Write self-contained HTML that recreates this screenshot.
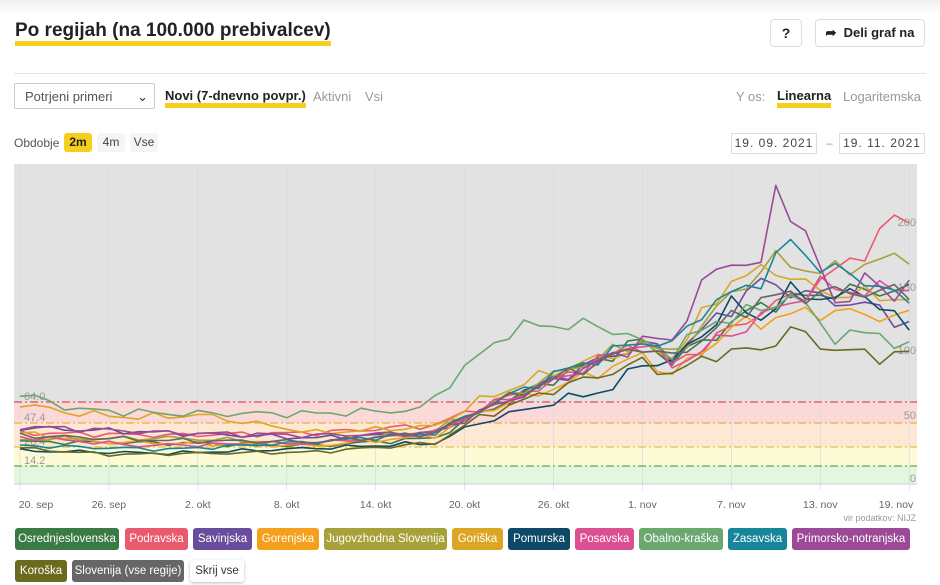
<!DOCTYPE html>
<html><head><meta charset="utf-8"><style>
body{margin:0;width:940px;height:585px;background:#fff;font-family:"Liberation Sans",sans-serif;position:relative;overflow:hidden;color:#222}
.a{position:absolute;white-space:nowrap}
.btn{position:absolute;height:22px;line-height:22px;border-radius:3px;color:#fff;font-size:11.5px;text-align:center}
.ul{border-bottom:5px solid #f5cf1b;line-height:14px}
</style></head><body>
<div class="a" style="left:0;top:0;width:940px;height:14px;background:linear-gradient(#f0f0f0,#fff)"></div>
<div class="a" style="left:15px;top:21px;font-size:19px;font-weight:bold;color:#222;border-bottom:5px solid #f5cf1b;line-height:20px">Po regijah (na 100.000 prebivalcev)</div>
<div class="a" style="left:770px;top:19px;width:30px;height:26px;border:1px solid #ddd;border-radius:4px;text-align:center;line-height:26px;font-weight:bold;font-size:14px">?</div>
<div class="a" style="left:815px;top:19px;width:108px;height:26px;border:1px solid #ddd;border-radius:4px;line-height:26px;font-weight:bold;font-size:13px;text-align:center">➦&nbsp; Deli graf na</div>
<div class="a" style="left:14px;top:73px;width:912px;height:1px;background:#e6e6e6"></div>
<div class="a" style="left:14px;top:83px;width:141px;height:26px;border:1px solid #ccc;border-radius:2px;font-size:13px;color:#555;line-height:26px;padding-left:10px;box-sizing:border-box">Potrjeni primeri<span style="position:absolute;right:6px;color:#333">⌄</span></div>
<div class="a ul" style="left:165px;top:89px;font-size:13px;font-weight:bold">Novi (7-dnevno povpr.)</div>
<div class="a" style="left:313px;top:89px;font-size:13px;color:#999">Aktivni</div>
<div class="a" style="left:365px;top:89px;font-size:13px;color:#999">Vsi</div>
<div class="a" style="left:736px;top:89px;font-size:13px;color:#999">Y os:</div>
<div class="a ul" style="left:777px;top:89px;font-size:13px;font-weight:bold">Linearna</div>
<div class="a" style="left:843px;top:89px;font-size:13px;color:#999">Logaritemska</div>
<div class="a" style="left:14px;top:136px;font-size:12px;color:#555">Obdobje</div>
<div class="a" style="left:64px;top:133px;width:28px;height:19px;background:#f5cf1b;border-radius:3px;font-size:12px;font-weight:bold;text-align:center;line-height:19px">2m</div>
<div class="a" style="left:97px;top:133px;width:28px;height:19px;background:#f5f5f5;border-radius:3px;font-size:12px;color:#444;text-align:center;line-height:19px">4m</div>
<div class="a" style="left:130px;top:133px;width:28px;height:19px;background:#f5f5f5;border-radius:3px;font-size:12px;color:#444;text-align:center;line-height:19px">Vse</div>
<div class="a" style="left:731px;top:133px;width:84px;height:19px;border:1px solid #ddd;font-size:12px;color:#444;text-align:center;line-height:19px;letter-spacing:1px">19. 09. 2021</div>
<div class="a" style="left:826px;top:136px;font-size:12px;color:#999">–</div>
<div class="a" style="left:839px;top:133px;width:84px;height:19px;border:1px solid #ddd;font-size:12px;color:#444;text-align:center;line-height:19px;letter-spacing:1px">19. 11. 2021</div>
<svg class="a" style="left:0;top:0" width="940" height="585" id="s">
<rect x="14" y="164" width="903" height="238" fill="#e2e2e2"/>
<rect x="14" y="402" width="903" height="21" fill="#fcd9d9"/>
<rect x="14" y="423" width="903" height="24" fill="#fde9d3"/>
<rect x="14" y="447" width="903" height="19" fill="#fdfbd6"/>
<rect x="14" y="466" width="903" height="18" fill="#e3f6e0"/>
<g stroke="#d6d9e0" stroke-width="0.7" id="vg"></g>
<line x1="14" y1="484" x2="917" y2="484" stroke="#c8d0e0"/>
<line x1="14" y1="402" x2="917" y2="402" stroke="#e04858" stroke-dasharray="8,3,2,3" stroke-width="1.3"/>
<line x1="14" y1="423" x2="917" y2="423" stroke="#e8b040" stroke-dasharray="8,3,2,3" stroke-width="1.2"/>
<line x1="14" y1="447" x2="917" y2="447" stroke="#d8c840" stroke-dasharray="8,3,2,3" stroke-width="1.2"/>
<line x1="14" y1="466" x2="917" y2="466" stroke="#70a060" stroke-dasharray="8,3,2,3" stroke-width="1.2"/>
<g font-size="11" fill="#999" font-family="Liberation Sans,sans-serif">
<text x="24" y="400">64.0</text><text x="24" y="421">47.4</text><text x="24" y="445">28.4</text><text x="24" y="464">14.2</text>
<g text-anchor="end"><text x="916" y="226">200</text><text x="916" y="291">150</text><text x="916" y="354">100</text><text x="916" y="419">50</text><text x="916" y="482">0</text></g>
<g fill="#666" font-size="10.5" text-anchor="middle" id="xl"></g>
<text x="916" y="521" text-anchor="end" font-size="9">vir podatkov: NIJZ</text>
</g>
<g id="ln" fill="none" stroke-width="1.6" stroke-linejoin="round"></g>
</svg>
<div class="btn" style="left:15px;top:528px;width:104px;background:#3a7a44">Osrednjeslovenska</div>
<div class="btn" style="left:125px;top:528px;width:63px;background:#ea5a6e">Podravska</div>
<div class="btn" style="left:193px;top:528px;width:59px;background:#6a4c9c">Savinjska</div>
<div class="btn" style="left:257px;top:528px;width:62px;background:#f4a01c">Gorenjska</div>
<div class="btn" style="left:324px;top:528px;width:123px;background:#a7a13a">Jugovzhodna Slovenija</div>
<div class="btn" style="left:452px;top:528px;width:51px;background:#dca624">Goriška</div>
<div class="btn" style="left:508px;top:528px;width:62px;background:#0e4a68">Pomurska</div>
<div class="btn" style="left:575px;top:528px;width:59px;background:#da5092">Posavska</div>
<div class="btn" style="left:639px;top:528px;width:84px;background:#6aa870">Obalno-kraška</div>
<div class="btn" style="left:728px;top:528px;width:59px;background:#18869a">Zasavska</div>
<div class="btn" style="left:792px;top:528px;width:118px;background:#9c4a98">Primorsko-notranjska</div>
<div class="btn" style="left:15px;top:560px;width:52px;background:#6b6b1e">Koroška</div>
<div class="btn" style="left:72px;top:560px;width:112px;background:#666">Slovenija (vse regije)</div>
<div class="btn" style="left:190px;top:560px;width:54px;background:#fff;color:#333;box-shadow:0 1px 3px #bbb">Skrij vse</div>
<script>
var X=d=>20+d*14.82, Y=v=>484-v*1.28;
var labs=["20. sep","26. sep","2. okt","8. okt","14. okt","20. okt","26. okt","1. nov","7. nov","13. nov","19. nov"];
var vg=document.getElementById('vg'),xl=document.getElementById('xl'),ns="http://www.w3.org/2000/svg";
labs.forEach((l,i)=>{var x=X(i*6);var e=document.createElementNS(ns,'line');e.setAttribute('x1',x);e.setAttribute('x2',x);e.setAttribute('y1',164);e.setAttribute('y2',490);vg.appendChild(e);var t=document.createElementNS(ns,'text');t.setAttribute('x',i==0?36:i==10?896:x);t.setAttribute('y',508);t.textContent=l;xl.appendChild(t);});
var S=[
["#3a7a44",[[0,33],[10,32],[20,30],[28,36],[31,55],[36,82],[42,112],[44,96],[50,140],[55,150],[60,152]]],
["#ea5a6e",[[0,40],[10,38],[20,40],[28,46],[31,60],[36,80],[42,110],[44,93],[50,135],[53,150],[57,182],[59,208],[60,205]]],
["#6a4c9c",[[0,44],[10,40],[20,36],[28,40],[31,56],[36,82],[42,110],[44,100],[50,158],[54,145],[57,140],[60,125]]],
["#f4a01c",[[0,40],[5,33],[20,30],[28,38],[31,56],[36,75],[42,100],[44,85],[48,122],[51,130],[54,135],[60,130]]],
["#a7a13a",[[0,35],[10,36],[20,32],[28,42],[31,58],[36,85],[42,112],[44,100],[48,148],[51,176],[54,165],[57,172],[60,178]]],
["#dca624",[[0,62],[4,55],[8,52],[12,54],[20,40],[28,45],[31,65],[36,88],[42,108],[44,100],[48,160],[51,168],[54,150],[60,145]]],
["#0e4a68",[[0,26],[10,24],[20,28],[28,32],[31,48],[36,64],[40,75],[42,95],[44,95],[48,140],[50,130],[52,150],[55,145],[57,150],[60,120]]],
["#da5092",[[0,37],[8,30],[20,32],[28,40],[31,58],[36,80],[42,112],[44,92],[50,130],[54,155],[57,150],[60,155]]],
["#6aa870",[[0,70],[4,58],[10,55],[20,55],[27,58],[30,90],[33,120],[36,125],[40,122],[42,110],[44,103],[47,128],[50,136],[52,148],[55,115],[58,118],[60,105]]],
["#18869a",[[0,30],[10,27],[20,33],[28,40],[31,58],[36,85],[42,112],[44,108],[46,135],[48,148],[50,160],[52,190],[54,170],[57,160],[59,148],[60,140]]],
["#9c4a98",[[0,45],[10,40],[20,38],[28,40],[31,56],[36,80],[40,100],[42,112],[44,112],[46,155],[48,175],[50,170],[51,230],[53,195],[55,140],[57,160],[59,145],[60,163]]],
["#6b6b1e",[[0,28],[6,23],[20,25],[28,32],[31,52],[36,74],[42,95],[44,86],[47,102],[50,105],[52,120],[55,105],[58,100],[60,102]]],
["#666666",[[0,38],[10,34],[20,33],[28,40],[31,58],[36,82],[42,108],[44,98],[50,145],[55,150],[60,150]]]
];
var ln=document.getElementById('ln');
S.forEach((s,k)=>{var kf=s[1],pts=[];for(var d=0;d<=60;d++){var j=0;while(j<kf.length-2&&kf[j+1][0]<d)j++;var a=kf[j],b=kf[j+1];var t=(d-a[0])/(b[0]-a[0]);t=Math.max(0,Math.min(1,t));var v=a[1]+(b[1]-a[1])*t;v+=Math.sin(d*1.7+k*2.3)*Math.min(5,v*0.04)+Math.cos(d*2.9+k)*Math.min(3,v*0.025);pts.push(X(d).toFixed(1)+','+Y(v).toFixed(1));}
var p=document.createElementNS(ns,'polyline');p.setAttribute('points',pts.join(' '));p.setAttribute('stroke',s[0]);ln.appendChild(p);});
</script>
</body></html>
